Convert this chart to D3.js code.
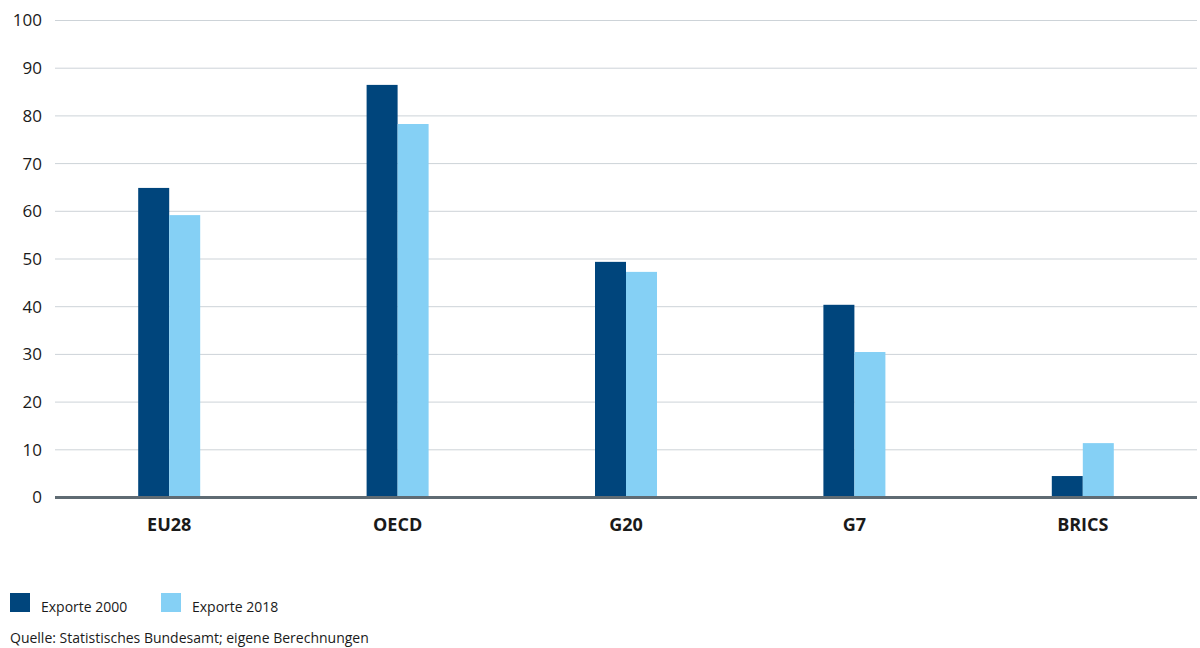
<!DOCTYPE html>
<html>
<head>
<meta charset="utf-8">
<script src="https://cdn.jsdelivr.net/npm/d3@7"></script>
<style>
  body { margin: 0; background: #fff; }
  text { font-family: "Open Sans", "Noto Sans", sans-serif; fill: #1a1a1a; }
</style>
</head>
<body>
<svg id="chart" width="1200" height="648"></svg>
<script>
const categories = ['EU28', 'OECD', 'G20', 'G7', 'BRICS']
const exports2000 = [64.9, 86.5, 49.4, 40.4, 4.5]
const exports2018 = [59.2, 78.3, 47.3, 30.5, 11.4]
const seriesNames = ['Exporte 2000', 'Exporte 2018']
const yTicks = [0, 10, 20, 30, 40, 50, 60, 70, 80, 90, 100]
const source = 'Quelle: Statistisches Bundesamt; eigene Berechnungen'

const colors = ['#00457c', '#85d0f5']
const svg = d3.select('#chart')
const plotLeft = 55, plotRight = 1197, plotTop = 20.5, plotBottom = 497.5

const x = d3.scaleBand().domain(categories).range([plotLeft, plotRight])
const y = d3.scaleLinear().domain([0, 100]).range([plotBottom, plotTop])
const barW = 31

// gridlines
svg.append('g')
  .selectAll('line')
  .data(yTicks.filter(t => t > 0))
  .join('line')
  .attr('x1', plotLeft).attr('x2', plotRight)
  .attr('y1', d => y(d)).attr('y2', d => y(d))
  .attr('stroke', '#cdd3d8').attr('stroke-width', 1)

// y tick labels
svg.append('g')
  .selectAll('text')
  .data(yTicks)
  .join('text')
  .attr('x', 42)
  .attr('y', d => y(d))
  .attr('dy', '0.35em')
  .attr('text-anchor', 'end')
  .style('font-size', '17px')
  .text(d => d)

// bars
const rows = categories.map((c, i) => ({cat: c, vals: [exports2000[i], exports2018[i]]}))
const groups = svg.append('g')
  .selectAll('g')
  .data(rows)
  .join('g')
  .attr('transform', d => `translate(${x(d.cat) + x.bandwidth() / 2}, 0)`)

groups.selectAll('rect')
  .data(d => d.vals)
  .join('rect')
  .attr('x', (d, i) => (i - 1) * barW)
  .attr('y', d => y(d))
  .attr('width', barW)
  .attr('height', d => plotBottom - y(d))
  .attr('fill', (d, i) => colors[i])

// baseline
svg.append('line')
  .attr('x1', plotLeft).attr('x2', plotRight)
  .attr('y1', plotBottom).attr('y2', plotBottom)
  .attr('stroke', '#5f6b73').attr('stroke-width', 3)

// category labels
groups.append('text')
  .attr('y', 531)
  .attr('text-anchor', 'middle')
  .style('font-size', '18px')
  .style('font-weight', 'bold')
  .text(d => d.cat)

// legend
const legend = svg.append('g')
  .selectAll('g')
  .data(seriesNames)
  .join('g')
  .attr('transform', (d, i) => `translate(${10 + i * 151}, 593)`)
legend.append('rect')
  .attr('width', 20).attr('height', 19)
  .attr('fill', (d, i) => colors[i])
legend.append('text')
  .attr('x', 31).attr('y', 19)
  .style('font-size', '14px')
  .text(d => d)

svg.append('text')
  .attr('x', 10).attr('y', 643)
  .style('font-size', '14px')
  .text(source)
</script>
</body>
</html>
